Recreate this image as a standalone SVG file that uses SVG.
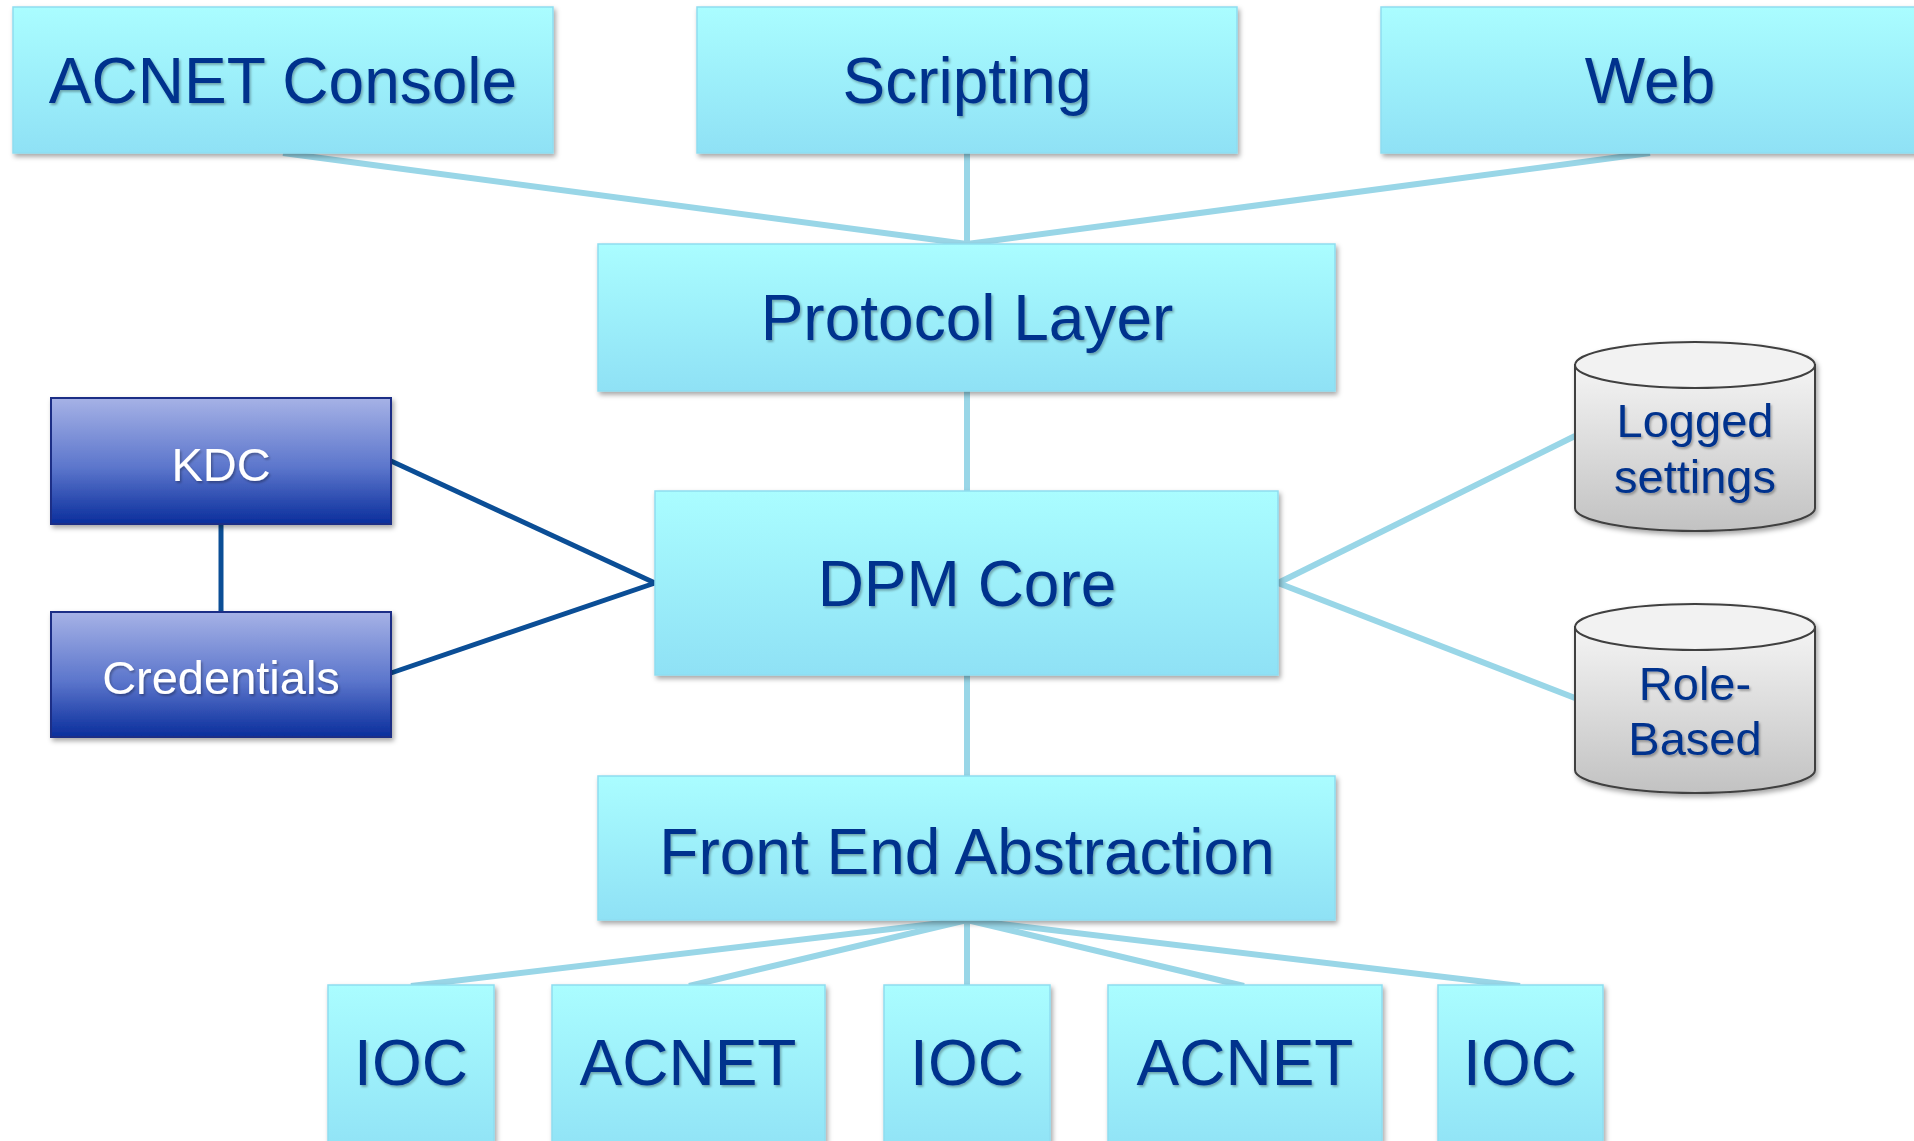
<svg xmlns="http://www.w3.org/2000/svg" width="1914" height="1141" viewBox="0 0 1914 1141">
<defs>
<linearGradient id="gCyan" x1="0" y1="0" x2="0" y2="1">
<stop offset="0" stop-color="#AAFDFF"/>
<stop offset="1" stop-color="#8FE1F5"/>
</linearGradient>
<linearGradient id="gBlue" x1="0" y1="0" x2="0" y2="1">
<stop offset="0" stop-color="#A6B2E6"/>
<stop offset="0.55" stop-color="#5C76CC"/>
<stop offset="1" stop-color="#0A2E9C"/>
</linearGradient>
<linearGradient id="gGray" x1="0" y1="0" x2="0" y2="1">
<stop offset="0" stop-color="#F4F4F4"/>
<stop offset="1" stop-color="#C2C2C2"/>
</linearGradient>
<filter id="shadow" x="-10%" y="-10%" width="130%" height="140%">
<feDropShadow dx="2" dy="3" stdDeviation="2.5" flood-color="#000" flood-opacity="0.35"/>
</filter>
<filter id="tshadow" x="-5%" y="-10%" width="115%" height="130%">
<feDropShadow dx="1.5" dy="2" stdDeviation="1" flood-color="#000" flood-opacity="0.3"/>
</filter>
</defs>
<style>
.box{fill:url(#gCyan);stroke:#8EDDF0;stroke-width:1.5;filter:url(#shadow)}
.kbox{fill:url(#gBlue);stroke:#1B2F86;stroke-width:2;filter:url(#shadow)}
.cyl{fill:url(#gGray);stroke:#3F3F3F;stroke-width:2}
.cyltop{fill:#F2F2F2;stroke:#3F3F3F;stroke-width:2}
.t{font-family:"Liberation Sans",Arial,sans-serif;fill:#00338D;text-anchor:middle;filter:url(#tshadow)}
.big{font-size:64px}
.sm{font-size:47px}
.w{fill:#FFFFFF}
.lc{stroke:#99D6E7;stroke-width:6;fill:none;stroke-linecap:butt}
.dc{stroke:#0B4E96;stroke-width:5;fill:none}
</style>
<rect width="1914" height="1141" fill="#FFFFFF"/>
<g id="connectors">
<line class="lc" x1="283" y1="153" x2="967" y2="244"/>
<line class="lc" x1="967" y1="153" x2="967" y2="244"/>
<line class="lc" x1="1650" y1="153" x2="967" y2="244"/>
<line class="lc" x1="967" y1="391" x2="967" y2="491"/>
<line class="lc" x1="967" y1="675" x2="967" y2="776"/>
<line class="lc" x1="1278" y1="583" x2="1575" y2="436"/>
<line class="lc" x1="1278" y1="583" x2="1575" y2="698"/>
<line class="lc" x1="967" y1="920" x2="411" y2="986"/>
<line class="lc" x1="967" y1="920" x2="689" y2="986"/>
<line class="lc" x1="967" y1="920" x2="967" y2="986"/>
<line class="lc" x1="967" y1="920" x2="1244" y2="986"/>
<line class="lc" x1="967" y1="920" x2="1520" y2="986"/>
<line class="dc" x1="221" y1="524" x2="221" y2="612"/>
<line class="dc" x1="391" y1="461" x2="655" y2="583"/>
<line class="dc" x1="391" y1="673" x2="655" y2="583"/>
</g>
<g id="acnet-console">
<rect class="box" x="13" y="7" width="540" height="146"/>
<text class="t big" x="283" y="103">ACNET Console</text>
</g>
<g id="scripting">
<rect class="box" x="697" y="7" width="540" height="146"/>
<text class="t big" x="967" y="103">Scripting</text>
</g>
<g id="web">
<rect class="box" x="1381" y="7" width="560" height="146"/>
<text class="t big" x="1650" y="103">Web</text>
</g>
<g id="protocol-layer">
<rect class="box" x="598" y="244" width="737" height="147"/>
<text class="t big" x="967" y="340">Protocol Layer</text>
</g>
<g id="dpm-core">
<rect class="box" x="655" y="491" width="623" height="184"/>
<text class="t big" x="967" y="606">DPM Core</text>
</g>
<g id="front-end-abstraction">
<rect class="box" x="598" y="776" width="737" height="144"/>
<text class="t big" x="967" y="874">Front End Abstraction</text>
</g>
<g id="kdc">
<rect class="kbox" x="51" y="398" width="340" height="126"/>
<text class="t sm w" x="221" y="481">KDC</text>
</g>
<g id="credentials">
<rect class="kbox" x="51" y="612" width="340" height="125"/>
<text class="t sm w" x="221" y="694">Credentials</text>
</g>
<g id="logged-settings" filter="url(#shadow)">
<path class="cyl" d="M1575,365 L1575,508 A120,23 0 0 0 1815,508 L1815,365 Z"/>
<ellipse class="cyltop" cx="1695" cy="365" rx="120" ry="23"/>
<text class="t sm" x="1695" y="437">Logged</text>
<text class="t sm" x="1695" y="493">settings</text>
</g>
<g id="role-based" filter="url(#shadow)">
<path class="cyl" d="M1575,627 L1575,770 A120,23 0 0 0 1815,770 L1815,627 Z"/>
<ellipse class="cyltop" cx="1695" cy="627" rx="120" ry="23"/>
<text class="t sm" x="1695" y="700">Role-</text>
<text class="t sm" x="1695" y="755">Based</text>
</g>
<g id="ioc-1">
<rect class="box" x="328" y="985" width="166" height="175"/>
<text class="t big" x="411" y="1085">IOC</text>
</g>
<g id="acnet-1">
<rect class="box" x="552" y="985" width="273" height="175"/>
<text class="t big" x="688" y="1085">ACNET</text>
</g>
<g id="ioc-2">
<rect class="box" x="884" y="985" width="166" height="175"/>
<text class="t big" x="967" y="1085">IOC</text>
</g>
<g id="acnet-2">
<rect class="box" x="1108" y="985" width="274" height="175"/>
<text class="t big" x="1245" y="1085">ACNET</text>
</g>
<g id="ioc-3">
<rect class="box" x="1438" y="985" width="165" height="175"/>
<text class="t big" x="1520" y="1085">IOC</text>
</g>
</svg>
